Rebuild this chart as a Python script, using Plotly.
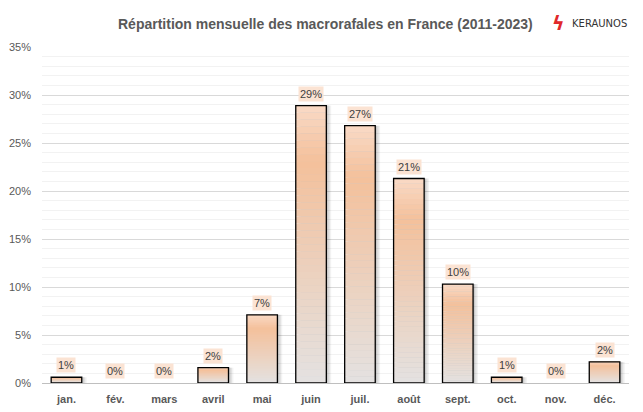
import plotly.graph_objects as go

months = ["jan.", "fév.", "mars", "avril", "mai", "juin", "juil.", "août", "sept.", "oct.", "nov.", "déc."]
values = [0.6, 0.0, 0.0, 1.6, 7.1, 28.9, 26.8, 21.3, 10.3, 0.6, 0.0, 2.2]
labels = ["1%", "0%", "0%", "2%", "7%", "29%", "27%", "21%", "10%", "1%", "0%", "2%"]
y_ticks = [0, 5, 10, 15, 20, 25, 30, 35]
y_tick_text = ["0%", "5%", "10%", "15%", "20%", "25%", "30%", "35%"]

title = "Répartition mensuelle des macrorafales en France (2011-2023)"

fig = go.Figure()

# gradient fill via stacked slices
stops = [(0.0, (249, 218, 198)), (0.2, (244, 192, 155)), (1.0, (228, 226, 225))]

def col(t):
    for (t0, c0), (t1, c1) in zip(stops[:-1], stops[1:]):
        if t0 <= t <= t1:
            f = (t - t0) / (t1 - t0)
            return "rgb(%d,%d,%d)" % tuple(round(a + (b - a) * f) for a, b in zip(c0, c1))
    return "rgb(%d,%d,%d)" % stops[-1][1]

BW = 0.625
# soft shadow
for k, a in [(0.10, 0.05), (0.07, 0.07), (0.04, 0.09)]:
    fig.add_trace(go.Bar(x=months, y=values, width=BW, offset=-BW / 2 + k,
                         marker=dict(color="rgba(0,0,0,%.2f)" % a, line=dict(width=0)),
                         hoverinfo="skip", showlegend=False))
n = 40
for i in range(n):
    top = [v * (1 - i / n) for v in values]
    bot = [v * (1 - (i + 1) / n) for v in values]
    fig.add_trace(go.Bar(x=months, y=[t - b for t, b in zip(top, bot)], base=bot, width=BW,
                         marker=dict(color=col((i + 0.5) / n), line=dict(width=0)),
                         hoverinfo="skip", showlegend=False))
# outline (transparent outline for empty months)
fig.add_trace(go.Bar(x=months, y=values, width=BW,
                     marker=dict(color="rgba(0,0,0,0)",
                                 line=dict(color=["black" if v > 0 else "rgba(0,0,0,0)" for v in values],
                                           width=1.3)),
                     showlegend=False))

for m, v, lab in zip(months, values, labels):
    fig.add_annotation(x=m, y=v, xref="x", yref="y", text=lab, showarrow=False, yshift=12,
                       font=dict(size=11, color="#404040", family="Liberation Sans"),
                       bgcolor="#fbe3d3", borderpad=1)

fig.add_annotation(x=0.5, y=1.0, xref="paper", yref="paper", yshift=23, xshift=-10,
                   text="<b>" + title + "</b>", showarrow=False, yanchor="middle",
                   font=dict(size=14, color="#595959", family="Liberation Sans"))
fig.add_annotation(x=1.0, y=1.0, xref="paper", yref="paper", yshift=24, xshift=-71, xanchor="center",
                   text="<b>ϟ</b>", showarrow=False, yanchor="middle",
                   font=dict(size=19, color="#e0282a", family="DejaVu Sans"))
fig.add_annotation(x=1.0, y=1.0, xref="paper", yref="paper", yshift=24, xshift=0, xanchor="right",
                   text="KERAUNOS", showarrow=False, yanchor="middle",
                   font=dict(size=10, color="#333333", family="DejaVu Sans"))

# page body has an 8px default margin: size/margins compensate so the plot lands where the reference has it
fig.update_layout(
    width=635, height=404,
    margin=dict(l=34, r=13.5, t=39, b=29),
    paper_bgcolor="white", plot_bgcolor="white",
    barmode="overlay", bargap=0.375,
    font=dict(family="Liberation Sans", color="#595959"),
)
fig.update_xaxes(tickfont=dict(size=11, color="#595959", family="Liberation Sans"),
                 ticks="", showgrid=False, showline=False, ticklabelstandoff=8, automargin=False,
                 tickvals=months, ticktext=["<b>" + m + "</b>" for m in months])
fig.update_yaxes(range=[0, 35], tickvals=y_ticks, ticktext=y_tick_text, automargin=False,
                 tickfont=dict(size=11, color="#595959", family="Liberation Sans"),
                 showgrid=True, gridcolor="#d9d9d9", gridwidth=1,
                 minor=dict(dtick=1, showgrid=True, gridcolor="#f2f2f2", gridwidth=1),
                 zeroline=True, zerolinecolor="#bfbfbf", zerolinewidth=1,
                 ticks="", ticklabelstandoff=10)

fig.write_html("out.html")
